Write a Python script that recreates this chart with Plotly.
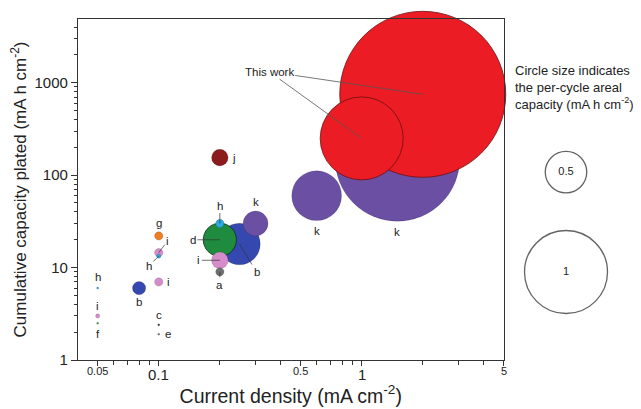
import numpy as np
import plotly.graph_objects as go

# ---------------- data ----------------
current_density = [1.5, 2.0, 1.0, 0.6, 0.25, 0.3, 0.2, 0.2, 0.2, 0.2, 0.2,
                   0.1, 0.1, 0.1, 0.1, 0.08, 0.05, 0.05, 0.05, 0.1, 0.1]
cumulative_capacity = [150, 750, 250, 60, 18, 30, 20, 30, 12, 9, 155,
                       22, 14.5, 13.3, 7, 6, 6, 3, 2.5, 2.4, 1.9]
areal_capacity = [1.5, 2.0, 1.0, 0.6, 0.5, 0.3, 0.4, 0.1, 0.2, 0.1, 0.2,
                  0.1, 0.1, 0.05, 0.1, 0.16, 0.025, 0.05, 0.025, 0.025, 0.025]
point_labels = ['k', 'This work', 'This work', 'k', 'b', 'k', 'd', 'h', 'i', 'a', 'j',
                'g', 'i', 'h', 'i', 'b', 'h', 'i', 'f', 'c', 'e']

legend_capacity = [0.5, 1]
legend_text = ['0.5', '1']

x_tick_vals = [0.05, 0.1, 0.5, 1, 5]
x_tick_text = ['0.05', '0.1', '0.5', '1', '5']
y_tick_vals = [1, 10, 100, 1000]
y_tick_text = ['1', '10', '100', '1000']

# ---------------- style ----------------
colors = {'k': '#6A4FA3', 'This work': '#EC1C24', 'b': '#3548B0', 'd': '#1E8B3E',
          'h': '#2AA9E0', 'i': '#D68BCB', 'a': '#6D6E71', 'j': '#8C1B1E',
          'g': '#EF7D22', 'f': '#3DAA48', 'c': '#444444', 'e': '#777777'}
outline = {'This work': '#6a1010', 'd': '#102a16'}
PX_PER_UNIT = 83  # marker diameter (px) per 1 mA h cm-2

# label offset in px (dx right, dy down), leader line?
label_style = [
    (0, 73, False), None, None, (0, 35, False), (17, 28, True), (0, -22, False),
    (-27, 0, True), (0, -18, True), (-21, 0, True), (0, 13, True), (14, 0, False),
    (0, -13, False), (9, -12, True), (-10, 10, True), (10, 0, False), (0, 14, False),
    (0, -11, False), (0, -10, False), (0, 11, False), (0, -10, False), (9, 0, False),
]

FONT = 'Liberation Sans, Arial, Helvetica, sans-serif'

fig = go.Figure()
fig.add_trace(go.Scatter(
    x=current_density, y=cumulative_capacity, mode='markers',
    marker=dict(size=[PX_PER_UNIT * c for c in areal_capacity], sizemode='diameter',
                color=[colors[l] for l in point_labels], opacity=1,
                line=dict(width=[0.8 if l in outline else 0.4 for l in point_labels],
                          color=[outline.get(l, 'rgba(0,0,0,0.35)') for l in point_labels])),
    cliponaxis=False, showlegend=False, hoverinfo='skip'))

# size legend on a hidden side axis
fig.add_trace(go.Scatter(
    x=[0.445, 0.445], y=[0.551, 0.258], xaxis='x2', yaxis='y2', mode='markers+text',
    marker=dict(size=[PX_PER_UNIT * c for c in legend_capacity], sizemode='diameter',
                color='rgba(0,0,0,0)', line=dict(color='#222', width=1.3)),
    text=legend_text, textposition='middle center',
    textfont=dict(family=FONT, size=11, color='#222'),
    cliponaxis=False, showlegend=False, hoverinfo='skip'))

annotations = []
for xv, yv, lab, st in zip(current_density, cumulative_capacity, point_labels, label_style):
    if st is None:
        continue
    dx, dy, lead = st
    if lead:
        annotations.append(dict(x=np.log10(xv), y=np.log10(yv), xref='x', yref='y',
                                text=lab, showarrow=True, arrowhead=0, arrowwidth=0.7,
                                arrowcolor='#333', ax=dx, ay=dy, standoff=0,
                                font=dict(family=FONT, size=11.5, color='#222')))
    else:
        annotations.append(dict(x=np.log10(xv), y=np.log10(yv), xref='x', yref='y',
                                text=lab, showarrow=False, xshift=dx, yshift=-dy,
                                font=dict(family=FONT, size=11.5, color='#222')))

# "This work" callouts
tw_x, tw_y = np.log10(0.35), np.log10(1320)
first = True
for xv, yv, lab in zip(current_density, cumulative_capacity, point_labels):
    if lab != 'This work':
        continue
    annotations.append(dict(x=np.log10(xv), y=np.log10(yv), xref='x', yref='y',
                            axref='x', ayref='y', ax=tw_x, ay=tw_y, text=lab,
                            showarrow=True, arrowhead=0, arrowwidth=0.8, arrowcolor='#555',
                            font=dict(family=FONT, size=11.5,
                                      color='#222' if first else 'rgba(0,0,0,0)')))
    first = False

annotations.append(dict(x=0.7726, y=0.877, xref='paper', yref='paper', xanchor='left',
                        yanchor='top', align='left', showarrow=False,
                        text='Circle size indicates<br>the per-cycle areal<br>capacity (mA h cm<sup>-2</sup>)',
                        font=dict(family=FONT, size=13, color='#222')))

# x tick labels: 0.1 and 1 large, others small and top-aligned
for v, t in zip(x_tick_vals, x_tick_text):
    big = v in (0.1, 1)
    annotations.append(dict(x=np.log10(v), y=0, xref='x', yref='paper', xanchor='center',
                            yanchor='top', showarrow=False, text=t,
                            yshift=-4 if big else -3,
                            font=dict(family=FONT, size=15 if big else 11, color='#222')))

# page body has an 8px default margin: figure is sized/offset to compensate
fig.update_layout(
    width=633, height=401, margin=dict(l=70, r=0, t=11, b=49),
    paper_bgcolor='white', plot_bgcolor='white',
    font=dict(family=FONT, color='#222'),
    xaxis=dict(type='log', domain=[0, 0.7558], range=[np.log10(0.04), np.log10(5)],
               tickvals=x_tick_vals, ticktext=[''] * len(x_tick_vals),
               ticks='outside', ticklen=5, tickwidth=1, tickcolor='#333',
               showline=True, linecolor='#333', linewidth=1.2, mirror=True,
               showgrid=False, zeroline=False, automargin=False,
               minor=dict(tickvals=[0.06, 0.07, 0.08, 0.09, 0.2, 0.3, 0.4, 0.6, 0.7, 0.8, 0.9, 2, 3, 4],
                          ticks='outside', ticklen=4, tickcolor='#333', showgrid=False),
               title=dict(text='Current density (mA cm<sup>-2</sup>)', font=dict(size=19.5), standoff=21)),
    yaxis=dict(type='log', range=[0, 3.69], tickvals=y_tick_vals, ticktext=y_tick_text,
               tickfont=dict(size=15), ticks='outside', ticklen=6, tickwidth=1, tickcolor='#333',
               showline=True, linecolor='#333', linewidth=1.2, mirror=True,
               showgrid=False, zeroline=False, automargin=False,
               minor=dict(tickvals=[2, 3, 4, 5, 6, 7, 8, 9, 20, 30, 40, 50, 60, 70, 80, 90,
                                    200, 300, 400, 500, 600, 700, 800, 900, 2000, 3000, 4000],
                          ticks='outside', ticklen=3, tickcolor='#333', showgrid=False),
               title=dict(text='Cumulative capacity plated (mA h cm<sup>-2</sup>)',
                          font=dict(size=17), standoff=4)),
    xaxis2=dict(domain=[0.76, 1], range=[0, 1], visible=False, anchor='y2'),
    yaxis2=dict(domain=[0, 1], range=[0, 1], visible=False, anchor='x2'),
    annotations=annotations,
)

fig.write_html('out.html')
